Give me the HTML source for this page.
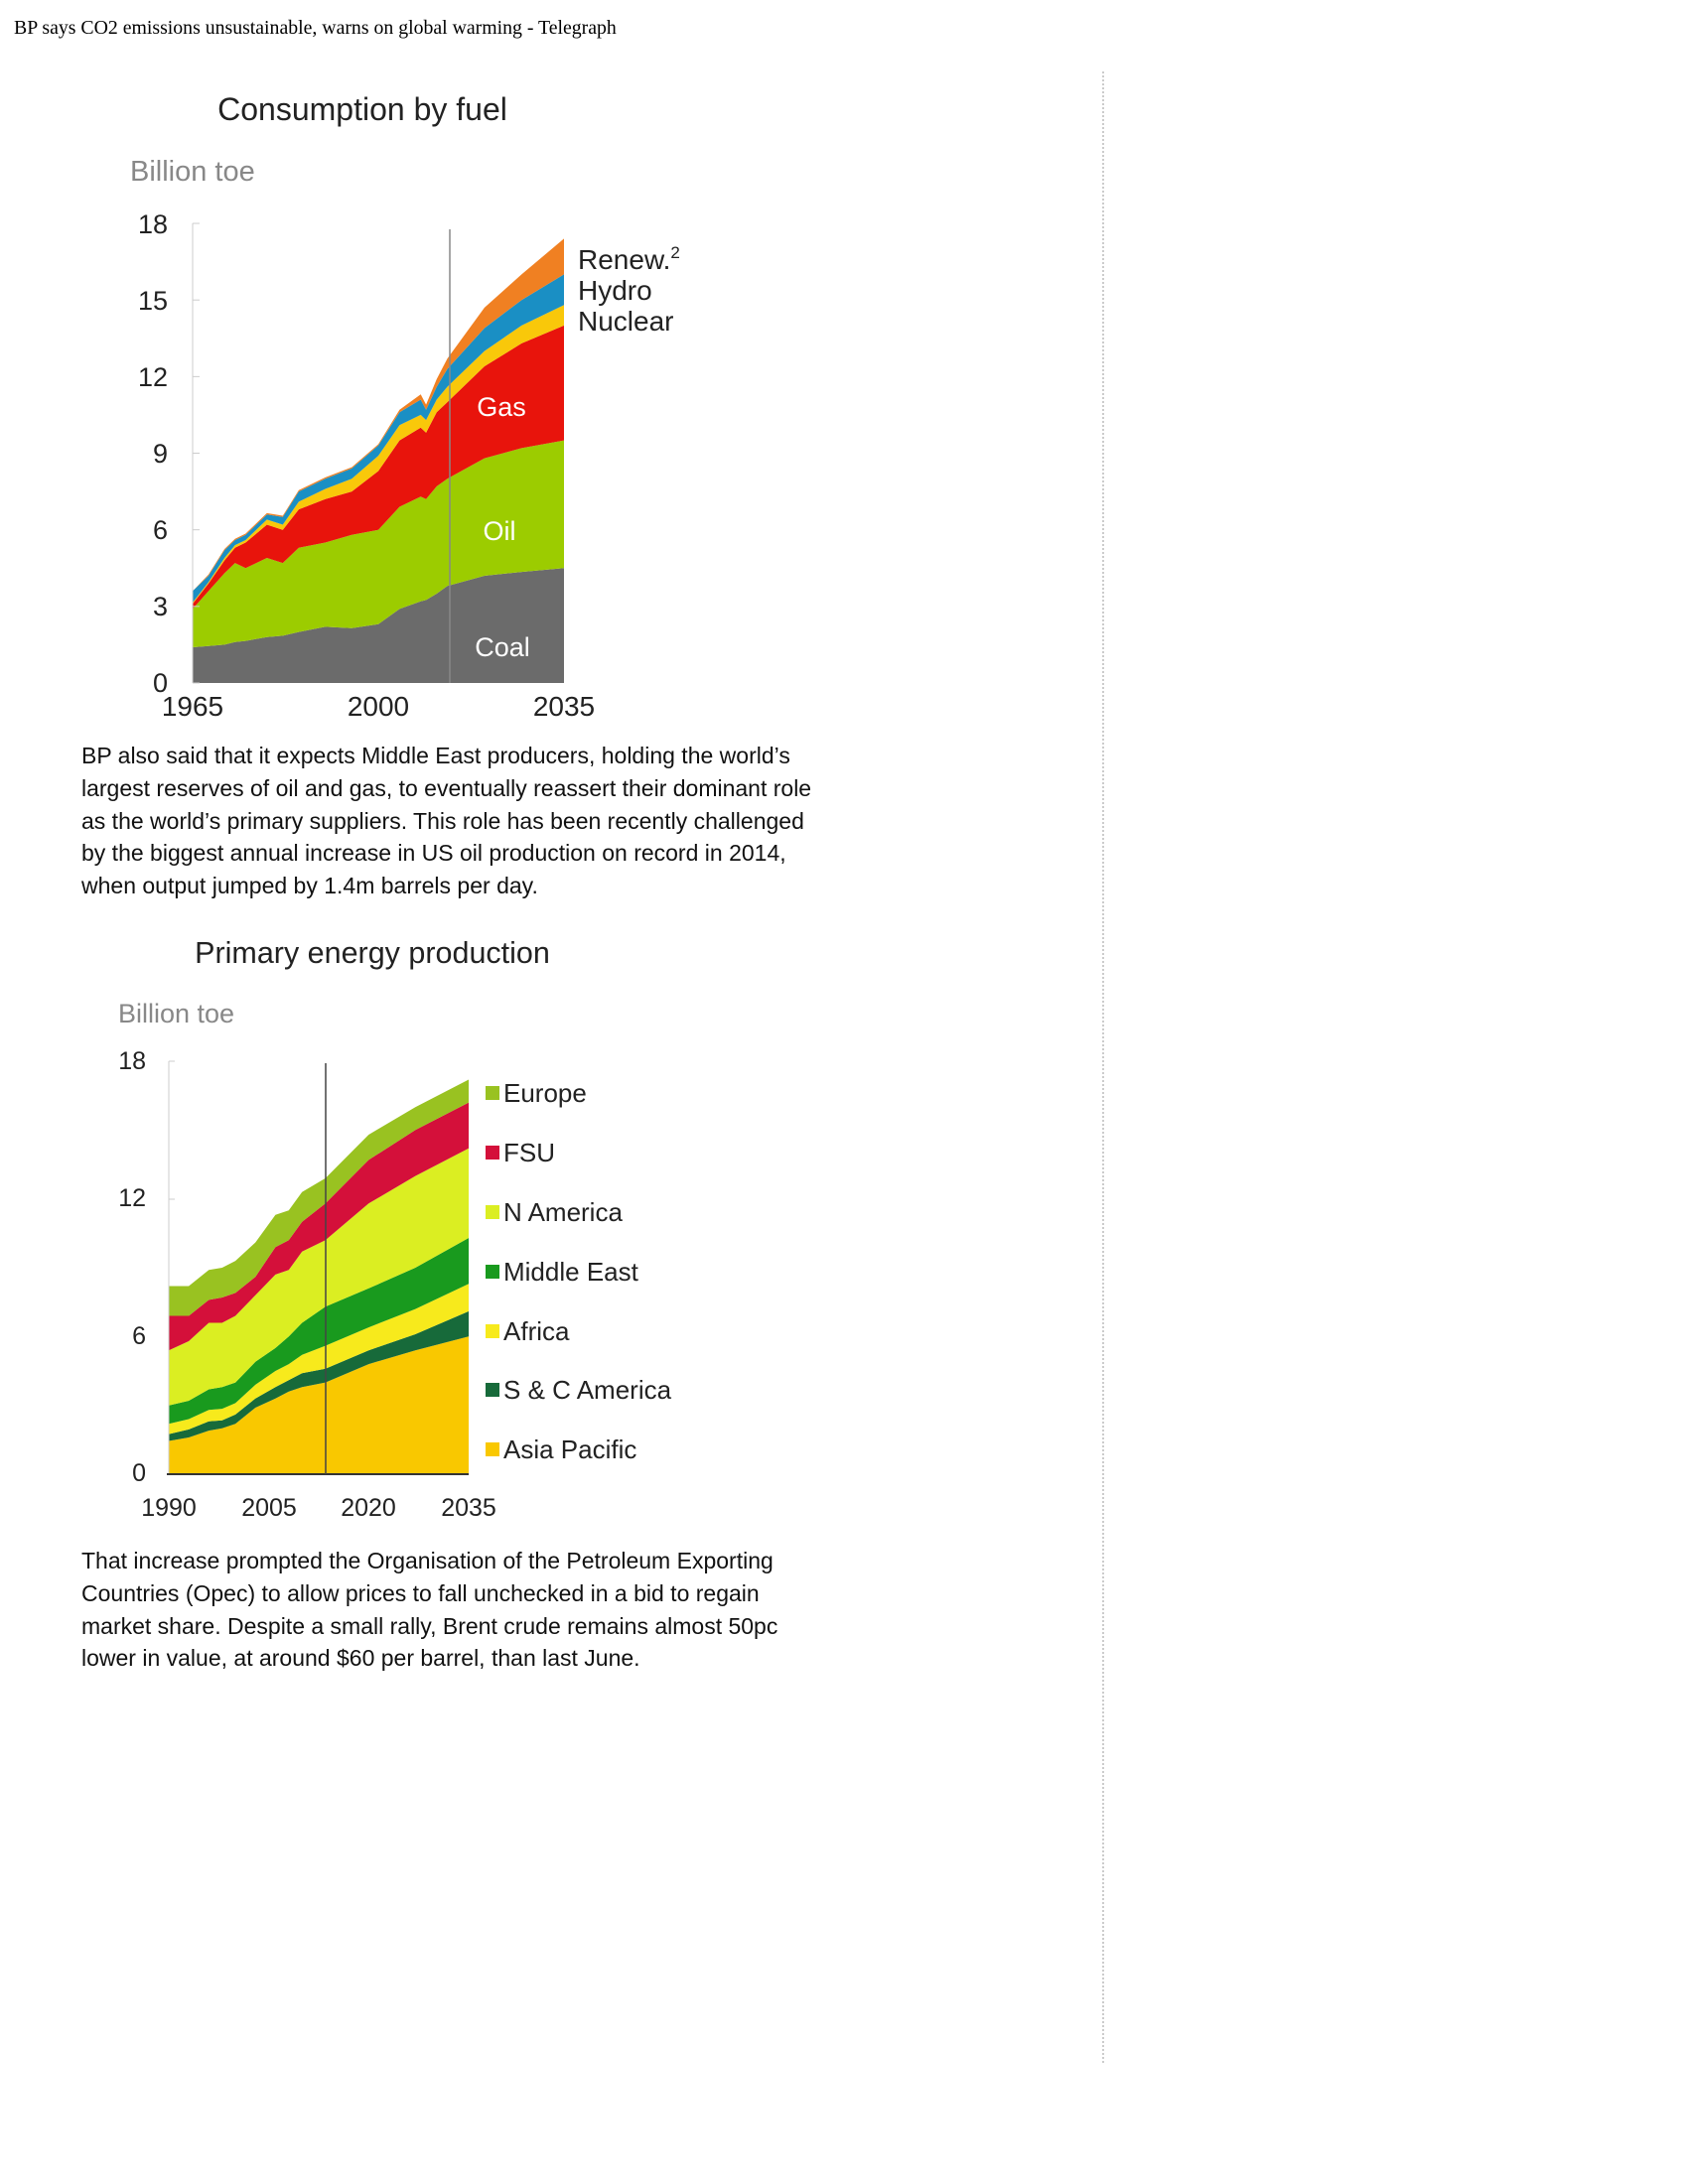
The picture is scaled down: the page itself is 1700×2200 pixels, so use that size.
<!DOCTYPE html>
<html><head><meta charset="utf-8"><style>
html,body{margin:0;padding:0;background:#fff;}
svg{display:block;}
.s{font-family:"Liberation Sans",Arial,sans-serif;}
</style></head><body>
<svg id="c" width="1700" height="2200" viewBox="0 0 1700 2200" xmlns="http://www.w3.org/2000/svg">
<rect width="1700" height="2200" fill="#fff"/>
<text x="14" y="34" font-family="Liberation Serif,serif" font-size="19.8" fill="#000">BP says CO2 emissions unsustainable, warns on global warming - Telegraph</text>
<line x1="1111" y1="72" x2="1111" y2="2080" stroke="#bbb" stroke-width="1.5" stroke-dasharray="2,2"/>

<g class="s">
<text x="365" y="121" text-anchor="middle" font-size="32" fill="#222">Consumption by fuel</text>
<text x="131" y="182" font-size="29" fill="#888">Billion toe</text>
<g id="ch1"></g>
<g font-size="27" fill="#222" text-anchor="end">
<text x="169" y="235">18</text><text x="169" y="312">15</text><text x="169" y="389">12</text>
<text x="169" y="466">9</text><text x="169" y="543">6</text><text x="169" y="620">3</text><text x="169" y="697">0</text>
</g>
<g font-size="28" fill="#222" text-anchor="middle">
<text x="194" y="721">1965</text><text x="381" y="721">2000</text><text x="568" y="721">2035</text>
</g>
<g font-size="28" fill="#222">
<text x="582" y="271">Renew.<tspan font-size="17" dy="-11">2</tspan></text>
<text x="582" y="302">Hydro</text><text x="582" y="333">Nuclear</text>
</g>
<g font-size="27" fill="#fff" text-anchor="middle">
<text x="505" y="419">Gas</text><text x="503" y="544">Oil</text><text x="506" y="661">Coal</text>
</g>

<g font-size="23" fill="#111">
<text x="82" y="769">BP also said that it expects Middle East producers, holding the world’s</text>
<text x="82" y="802">largest reserves of oil and gas, to eventually reassert their dominant role</text>
<text x="82" y="835">as the world’s primary suppliers. This role has been recently challenged</text>
<text x="82" y="867">by the biggest annual increase in US oil production on record in 2014,</text>
<text x="82" y="900">when output jumped by 1.4m barrels per day.</text>
</g>

<text x="375" y="970" text-anchor="middle" font-size="30.5" fill="#222">Primary energy production</text>
<text x="119" y="1030" font-size="27" fill="#888">Billion toe</text>
<g id="ch2"></g>
<g font-size="25" fill="#222" text-anchor="end">
<text x="147" y="1077">18</text><text x="147" y="1215">12</text><text x="147" y="1354">6</text><text x="147" y="1492">0</text>
</g>
<g font-size="25" fill="#222" text-anchor="middle">
<text x="170" y="1527">1990</text><text x="271" y="1527">2005</text><text x="371" y="1527">2020</text><text x="472" y="1527">2035</text>
</g>
<g font-size="26" fill="#222">
<rect x="489" y="1094" width="14" height="14" fill="#99c221"/><text x="507" y="1110">Europe</text>
<rect x="489" y="1154" width="14" height="14" fill="#d4103a"/><text x="507" y="1170">FSU</text>
<rect x="489" y="1214" width="14" height="14" fill="#dbee22"/><text x="507" y="1230">N America</text>
<rect x="489" y="1274" width="14" height="14" fill="#199a1e"/><text x="507" y="1290">Middle East</text>
<rect x="489" y="1334" width="14" height="14" fill="#f7ea1c"/><text x="507" y="1350">Africa</text>
<rect x="489" y="1393" width="14" height="14" fill="#176a3a"/><text x="507" y="1409">S &amp; C America</text>
<rect x="489" y="1453" width="14" height="14" fill="#f9c800"/><text x="507" y="1469">Asia Pacific</text>
</g>

<g font-size="23" fill="#111">
<text x="82" y="1580">That increase prompted the Organisation of the Petroleum Exporting</text>
<text x="82" y="1613">Countries (Opec) to allow prices to fall unchecked in a bid to regain</text>
<text x="82" y="1646">market share. Despite a small rally, Brent crude remains almost 50pc</text>
<text x="82" y="1678">lower in value, at around $60 per barrel, than last June.</text>
</g>
</g>
</svg>
<script>
function stack(years,layers,colors,x0,x1,y0,y1,vmax,yr0,yr1){
  var sx=function(y){return x0+(y-yr0)/(yr1-yr0)*(x1-x0);};
  var sy=function(v){return y0-(v/vmax)*(y0-y1);};
  var prev=years.map(function(){return 0;});
  var html='';
  for(var i=0;i<layers.length;i++){
    var top=layers[i],d='M';
    for(var j=0;j<years.length;j++){d+=sx(years[j]).toFixed(1)+','+sy(top[j]).toFixed(1)+' L';}
    for(var j=years.length-1;j>=0;j--){d+=sx(years[j]).toFixed(1)+','+sy(prev[j]).toFixed(1)+(j?' L':' Z');}
    html+='<path d="'+d+'" fill="'+colors[i]+'"/>';
    prev=top;
  }
  return html;
}
var y1=[1965,1968,1971,1973,1975,1979,1982,1985,1990,1995,2000,2004,2008,2009,2011,2013,2020,2027,2035];
var L1=[
[1.4,1.45,1.5,1.6,1.65,1.8,1.85,2.0,2.2,2.15,2.3,2.9,3.2,3.25,3.5,3.8,4.2,4.35,4.5],
[2.9,3.6,4.3,4.7,4.5,4.9,4.7,5.3,5.5,5.8,6.0,6.9,7.3,7.2,7.7,8.0,8.8,9.2,9.5],
[3.1,3.9,4.8,5.3,5.5,6.2,6.0,6.8,7.2,7.5,8.3,9.5,10.0,9.8,10.6,11.0,12.4,13.3,14.0],
[3.15,3.95,4.9,5.4,5.6,6.4,6.2,7.1,7.6,8.0,8.9,10.1,10.5,10.3,11.1,11.6,13.0,14.0,14.8],
[3.6,4.2,5.2,5.6,5.8,6.6,6.5,7.5,8.0,8.4,9.3,10.6,11.1,10.7,11.6,12.3,13.9,15.0,16.0],
[3.6,4.25,5.25,5.65,5.85,6.65,6.55,7.55,8.05,8.45,9.35,10.7,11.3,10.9,11.9,12.7,14.7,16.0,17.4]];
var C1=['#6b6b6b','#9ccc00','#e8140c','#f9c80a','#1a8fc4','#f08022'];
var h1=stack(y1,L1,C1,194,568,688,225,18,1965,2035);
h1+='<line x1="194" y1="225" x2="194" y2="688" stroke="#ccc" stroke-width="1"/>';
[0,3,6,9,12,15,18].forEach(function(v){var y=688-v*25.72;h1+='<line x1="194" y1="'+y+'" x2="201" y2="'+y+'" stroke="#ccc"/>';});
h1+='<line x1="453" y1="231" x2="453" y2="688" stroke="#888" stroke-width="1.5"/>';
document.getElementById('ch1').innerHTML=h1;

var y2=[1990,1993,1996,1998,2000,2003,2006,2008,2010,2013.5,2020,2027,2035];
var L2=[
[1.45,1.6,1.9,2.0,2.2,2.9,3.3,3.6,3.8,4.0,4.8,5.4,6.0],
[1.75,1.95,2.3,2.35,2.6,3.3,3.8,4.1,4.4,4.6,5.4,6.1,7.1],
[2.2,2.4,2.8,2.85,3.1,3.9,4.5,4.8,5.2,5.6,6.4,7.2,8.3],
[3.0,3.2,3.7,3.8,4.0,4.9,5.5,6.0,6.6,7.3,8.1,9.0,10.3],
[5.4,5.8,6.6,6.6,6.9,7.8,8.7,8.9,9.7,10.2,11.8,13.0,14.2],
[6.9,6.9,7.6,7.7,7.9,8.6,9.9,10.2,11.0,11.8,13.7,15.0,16.2],
[8.2,8.2,8.9,9.0,9.3,10.1,11.3,11.5,12.3,12.9,14.8,16.0,17.2]];
var C2=['#f9c800','#176a3a','#f7ea1c','#199a1e','#dbee22','#d4103a','#99c221'];
var h2=stack(y2,L2,C2,170,472,1485,1069,18,1990,2035);
h2+='<line x1="170" y1="1069" x2="170" y2="1485" stroke="#ccc"/>';
h2+='<line x1="170" y1="1069" x2="176" y2="1069" stroke="#ccc"/><line x1="170" y1="1208" x2="176" y2="1208" stroke="#ccc"/>';
h2+='<line x1="168" y1="1485" x2="472" y2="1485" stroke="#333" stroke-width="2"/>';
h2+='<line x1="328" y1="1071" x2="328" y2="1485" stroke="#444" stroke-width="1.5"/>';
document.getElementById('ch2').innerHTML=h2;
</script>
</body></html>
